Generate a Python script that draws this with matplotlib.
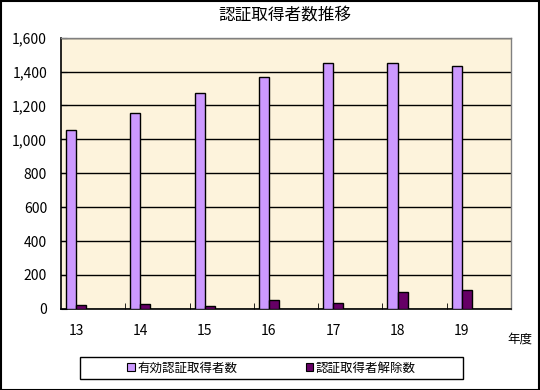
import matplotlib
matplotlib.use("Agg")
import matplotlib.pyplot as plt
from matplotlib.patches import Rectangle, Patch
import numpy as np

plt.rcParams['font.family'] = ['Noto Sans CJK JP', 'DejaVu Sans']

title = "認証取得者数推移"
years = ["13", "14", "15", "16", "17", "18", "19"]
valid = [1053, 1153, 1275, 1370, 1453, 1453, 1435]
revoked = [25, 31, 19, 49, 37, 102, 108]
series_names = ["有効認証取得者数", "認証取得者解除数"]
colors = ["#CC99FF", "#660066"]
yticks = [0, 200, 400, 600, 800, 1000, 1200, 1400, 1600]

fig = plt.figure(figsize=(5.4, 3.9), dpi=100)
ax = fig.add_axes([61/540, 1-308.8/390, 450/540, (308.8-37.6)/390])
ax.set_facecolor("#FDF3DC")

x = np.arange(len(years))
w = 0.157
ax.bar(x + 0.078, valid, width=w, align='edge', color=colors[0], edgecolor='black', linewidth=1, zorder=3)
ax.bar(x + 0.078 + w, revoked, width=w, align='edge', color=colors[1], edgecolor='black', linewidth=1, zorder=3)

ax.set_xlim(0, len(years))
ax.set_ylim(0, 1600)
ax.set_yticks(yticks)
ax.set_yticklabels([f"{v:,}" for v in yticks], fontsize=10)
ax.yaxis.grid(True, color='black', linewidth=1, zorder=1)
ax.set_axisbelow(True)
ax.tick_params(axis='y', direction='in', length=4, pad=10, color='black')

ax.set_xticks(x + 0.233)
ax.set_xticklabels(years, fontsize=10)
ax.set_xticks(np.arange(1, len(years)), minor=True)
ax.tick_params(axis='x', which='major', length=0, pad=11)
ax.tick_params(axis='x', which='minor', direction='in', length=4, color='black')

for s in ['left', 'bottom']:
    ax.spines[s].set_color('black')
    ax.spines[s].set_linewidth(1.2)
for s in ['top', 'right']:
    ax.spines[s].set_color('#808080')
    ax.spines[s].set_linewidth(1)

fig.text(285/540, 1-15/390, title, ha='center', va='center', fontsize=12)
fig.text(520/540, 1-339/390, "年度", ha='center', va='center', fontsize=9)

# legend box
lx0, ly0, lx1, ly1 = 80, 357, 463, 379
fig.patches.append(Rectangle((lx0/540, 1-ly1/390), (lx1-lx0)/540, (ly1-ly0)/390,
                             transform=fig.transFigure, facecolor='white', edgecolor='black', linewidth=1))
handles = [Patch(facecolor=c, edgecolor='black', linewidth=0.8) for c in colors]
leg = fig.legend(handles, series_names, ncol=2, loc='center',
                 bbox_to_anchor=((lx0+lx1)/2/540, 1-(ly0+ly1)/2/390),
                 frameon=False, fontsize=9, handlelength=0.6, handleheight=0.6,
                 handletextpad=0.2, columnspacing=5.5)

# figure border
fig.patches.append(Rectangle((0.001, 0.001), 0.997, 0.997, transform=fig.transFigure,
                             facecolor='none', edgecolor='black', linewidth=1.5))

fig.savefig("out.png", dpi=100)
